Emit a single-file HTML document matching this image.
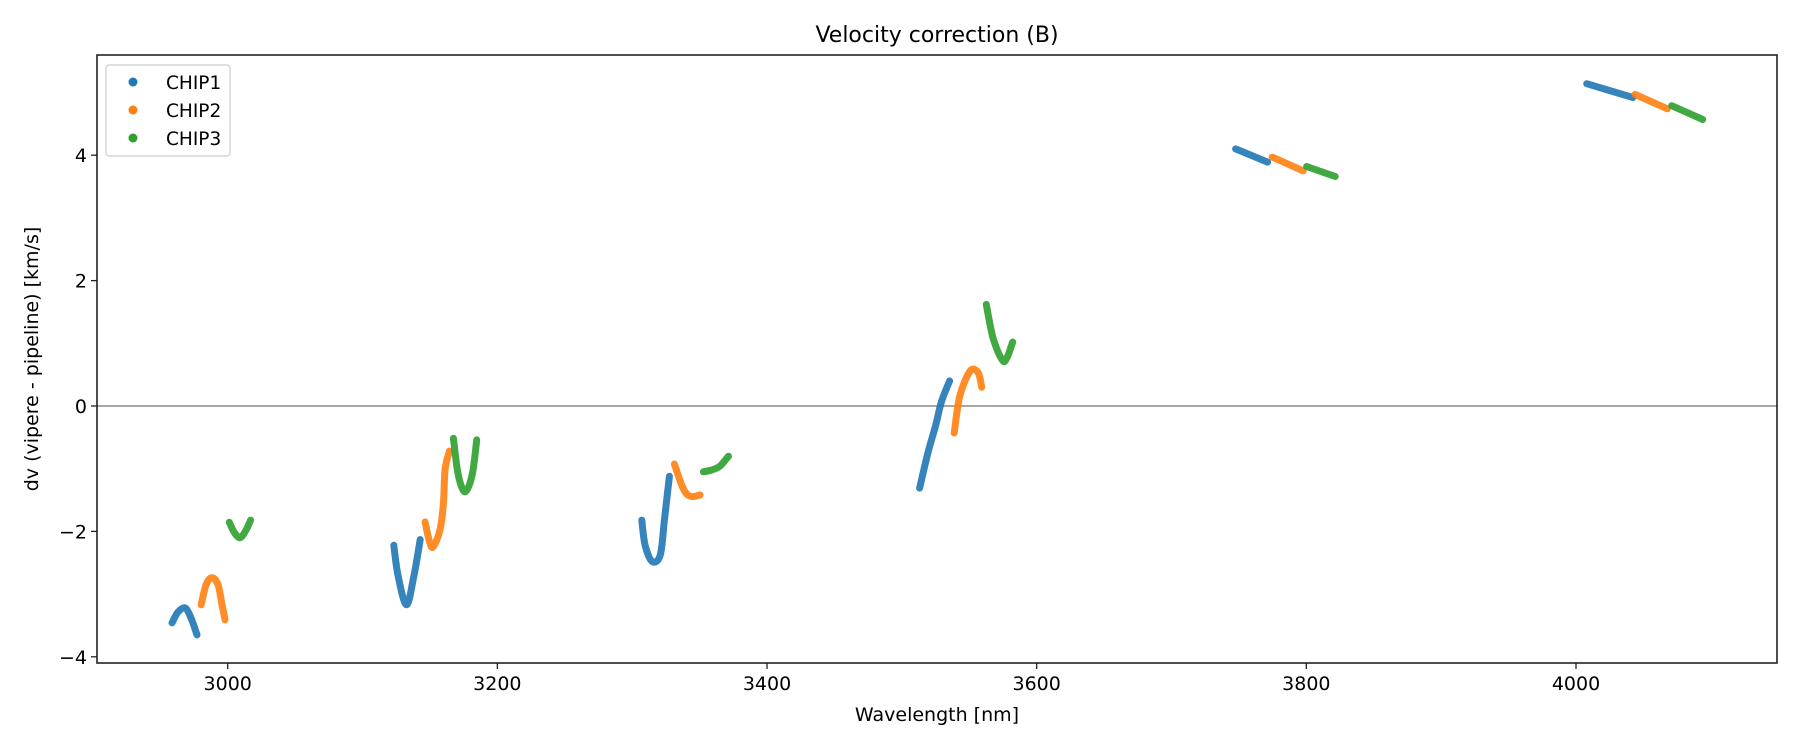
<!DOCTYPE html>
<html><head><meta charset="utf-8"><style>
html,body{margin:0;padding:0;background:#fff;}
svg text{font-family:"DejaVu Sans","Liberation Sans",sans-serif;fill:#000;}
</style></head><body>
<svg id="chart" width="1800" height="750" xmlns="http://www.w3.org/2000/svg">
<text x="937" y="42" font-size="22" text-anchor="middle">Velocity correction (B)</text>
<g id="plot"></g>
<g id="axes"></g>
<text x="937" y="721" font-size="19" text-anchor="middle">Wavelength [nm]</text>
<text transform="translate(38,359) rotate(-90)" font-size="19" text-anchor="middle">dv (vipere - pipeline) [km/s]</text>
<g>
<rect x="106" y="65" width="124" height="91" rx="3" fill="#fff" stroke="#ccc" stroke-width="1.2"/>
<circle cx="133" cy="82" r="4.5" fill="#1f77b4"/>
<text x="166" y="89" font-size="18.5">CHIP1</text>
<circle cx="133" cy="110" r="4.5" fill="#ff7f0e"/>
<text x="166" y="117" font-size="18.5">CHIP2</text>
<circle cx="133" cy="138" r="4.5" fill="#2ca02c"/>
<text x="166" y="145" font-size="18.5">CHIP3</text>
</g>
</svg>
<script>
const xTicks=[3000,3200,3400,3600,3800,4000];
const yTicks=[4,2,0,-2,-4];
const chip1Wl=[[2958.7,2963,2968.3,2972.8,2977.2],[3123.2,3126.3,3132.6,3138.2,3142.8],[3307.1,3309.6,3314.8,3320.8,3323.9,3327.6],[3513.2,3519.2,3525.2,3529.4,3535.4],[3747.5,3771.3],[4007.9,4042.2]];
const chip1Dv=[[-3.46,-3.29,-3.22,-3.38,-3.65],[-2.22,-2.70,-3.17,-2.70,-2.13],[-1.82,-2.22,-2.48,-2.38,-1.82,-1.12],[-1.31,-0.76,-0.30,0.07,0.40],[4.10,3.89],[5.14,4.92]];
const chip2Wl=[[2980.3,2984,2988.3,2992.8,2995.8,2998],[3146.4,3149.5,3152.3,3157.4,3160,3161.2,3164.4],[3331.3,3337.7,3343,3350.4],[3538.8,3543,3550.7,3556.6,3559.2],[3774.7,3797.7],[4043.8,4067.7]];
const chip2Dv=[[-3.17,-2.85,-2.74,-2.85,-3.17,-3.41],[-1.85,-2.15,-2.25,-1.98,-1.55,-1.02,-0.72],[-0.925,-1.31,-1.44,-1.42],[-0.43,0.16,0.56,0.53,0.30],[3.97,3.75],[4.97,4.74]];
const chip3Wl=[[3001.2,3004.7,3009.1,3013.6,3017],[3167.4,3171,3176,3181.3,3184.7],[3352.8,3359,3365,3371.4],[3562.6,3567.8,3574.6,3578,3582.2],[3800.2,3821.4],[4071,4094]];
const chip3Dv=[[-1.855,-2.01,-2.1,-1.98,-1.82],[-0.515,-1.1,-1.37,-1.1,-0.54],[-1.05,-1.02,-0.96,-0.80],[1.62,1.07,0.73,0.77,1.02],[3.82,3.66],[4.79,4.57]];

const L=97,R=1777,T=55,B=663;
function xs(w){return 227.7+(w-3000)*1.3483;}
function ys(v){return 406-v*62.7;}
const NS='http://www.w3.org/2000/svg';
const plot=document.getElementById('plot');
const axes=document.getElementById('axes');
function mk(tag,attrs,parent){const e=document.createElementNS(NS,tag);for(const k in attrs)e.setAttribute(k,attrs[k]);parent.appendChild(e);return e;}

const zl=mk('line',{x1:L,x2:R,y1:ys(0),y2:ys(0),stroke:'#888',"stroke-width":1.4},plot);



function smoothPath(p){
  let d='M'+p[0][0].toFixed(1)+','+p[0][1].toFixed(1);
  for(let i=0;i<p.length-1;i++){
    const p0=p[Math.max(0,i-1)],p1=p[i],p2=p[i+1],p3=p[Math.min(p.length-1,i+2)];
    const c1x=p1[0]+(p2[0]-p0[0])/6,c1y=p1[1]+(p2[1]-p0[1])/6;
    const c2x=p2[0]-(p3[0]-p1[0])/6,c2y=p2[1]-(p3[1]-p1[1])/6;
    d+=' C'+c1x.toFixed(1)+','+c1y.toFixed(1)+' '+c2x.toFixed(1)+','+c2y.toFixed(1)+' '+p2[0].toFixed(1)+','+p2[1].toFixed(1);
  }
  return d;
}
function drawChip(wl,dv,color,name){
  wl.forEach((seg,i)=>{
    const p=seg.map((w,j)=>[xs(w),ys(dv[i][j])]);
    const pl=mk('path',{d:smoothPath(p),fill:'none',stroke:color,"stroke-width":7,"stroke-linecap":'round',"stroke-linejoin":'round',opacity:0.9},plot);
    
    
  });
}
drawChip(chip1Wl,chip1Dv,'#1f77b4','chip1');
drawChip(chip2Wl,chip2Dv,'#ff7f0e','chip2');
drawChip(chip3Wl,chip3Dv,'#2ca02c','chip3');

const fr=mk('rect',{x:L,y:T,width:R-L,height:B-T,fill:'none',stroke:'#222',"stroke-width":1.6},axes);


xTicks.forEach(t=>{
  const x=xs(t);
  const tk=mk('line',{x1:x,x2:x,y1:B,y2:B+6,stroke:'#222',"stroke-width":1.3},axes);
  
  
  const tx=mk('text',{x:x,y:B+27,"font-size":19,"text-anchor":'middle'},axes);
  tx.textContent=t;
  
  
});
yTicks.forEach(t=>{
  const y=ys(t);
  const tk=mk('line',{x1:L-6,x2:L,y1:y,y2:y,stroke:'#222',"stroke-width":1.3},axes);
  
  
  const tx=mk('text',{x:L-10,y:y+7,"font-size":19,"text-anchor":'end'},axes);
  tx.textContent=t<0?'\u2212'+Math.abs(t):String(t);
  
  
});
</script>
</body></html>
